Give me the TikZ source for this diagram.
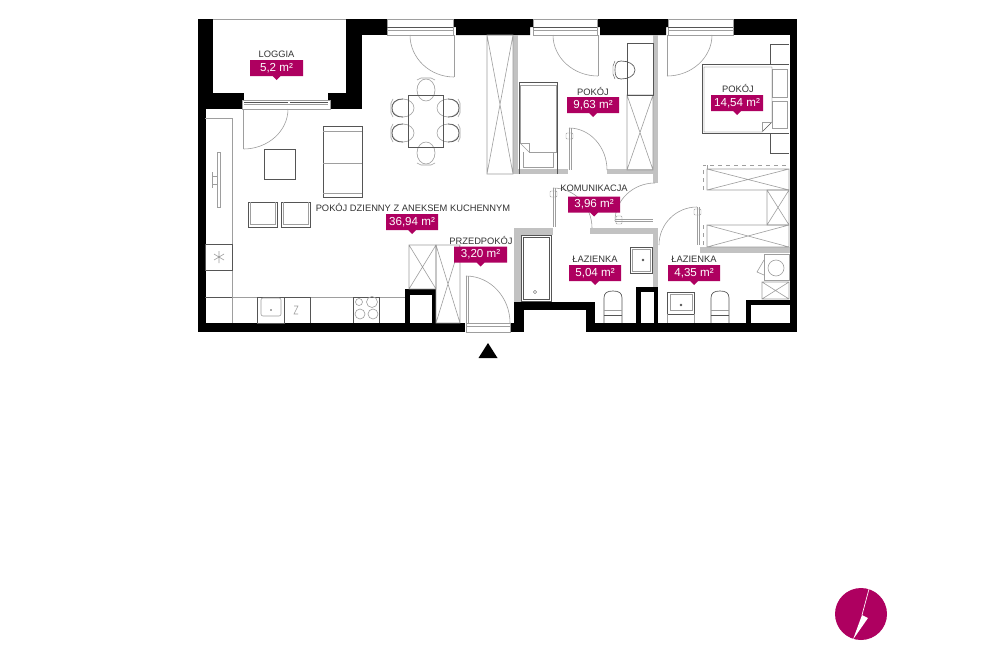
\documentclass[tikz,border=0pt]{standalone}
\usepackage{fontspec}
\setmainfont{Liberation Sans}
\usetikzlibrary{calc}
\definecolor{mag}{HTML}{AE0060}
\definecolor{txt}{HTML}{333333}
\definecolor{ln}{HTML}{555555}
\definecolor{lt}{HTML}{9E9E9E}
\definecolor{pw}{HTML}{C2C2C2}
\tikzset{
  wall/.style={fill=black,draw=none},
  part/.style={fill=pw,draw=none},
  furn/.style={draw=ln,line width=.5pt},
  thin/.style={draw=lt,line width=.45pt},
  doorl/.style={draw=lt,line width=.45pt},
  handle/.style={draw=lt,line width=.35pt,rounded corners=.8pt},
  title/.style={text=txt,font=\fontsize{7}{8}\selectfont,inner sep=0pt,anchor=center},
  val/.style={text=white,font=\fontsize{8.7}{9}\selectfont,inner sep=0pt,anchor=center,minimum width=39pt,minimum height=12pt}
}
\newcommand{\qarc}[3]{\draw[doorl] (#1) .. controls ($(#1)!0.55!(#2)$) and ($(#3)!0.55!(#2)$) .. (#3);}
\newcommand{\crossbox}[4]{\draw[thin] (#1,#2) rectangle (#3,#4) (#1,#2) -- (#3,#4) (#3,#2) -- (#1,#4);}
\newcommand{\areatag}[8]{%
  \node[title] (t#1) at (#3,#4) {#2};
  \fill[mag] (#6,#7) rectangle (#8,{#7+16}) ({(#6+#8)/2-4},{#7+16}) -- ({(#6+#8)/2+4},{#7+16}) -- ({(#6+#8)/2},{#7+20}) -- cycle;
  \node[val] (v#1) at ({(#6+#8)/2},{#7+8}) {#5};}
\newcommand{\winhoriz}[4]{%
  \fill[white] (#1,#2) rectangle (#3,#4);
  \draw[thin] (#1,#2) rectangle (#3,#4);
  \draw[furn] (#1,{#2+8}) -- (#3,{#2+8});
  \draw[thin] (#1,{#2+11}) -- (#3,{#2+11});}
\begin{document}
\begin{tikzpicture}[x=.75pt,y=-.75pt]
\useasboundingbox (0,0) rectangle (993,653);
\fill[white] (0,0) rectangle (993,653);
% black walls
\fill[wall] (197.5,19) rectangle (213,93);
\fill[wall] (197.5,93) rectangle (205.5,332);
\fill[wall] (205,93) rectangle (244,109);
\fill[wall] (197.5,323) rectangle (465,332);
\fill[wall] (346,19) rectangle (362,109);
\fill[wall] (346,19) rectangle (387,35);
\fill[wall] (328,93) rectangle (362,109);
\fill[wall] (453,19) rectangle (533,27) (456,27) rectangle (530,35);
\fill[wall] (597,19) rectangle (668,27) (600,27) rectangle (666,35);
\fill[wall] (733,19) rectangle (797,35);
\fill[wall] (789.5,19) rectangle (797,332);
\fill[wall] (510,323) rectangle (524,332);
\fill[wall] (514,302) rectangle (524,332);
\fill[wall] (514,302) rectangle (595,310);
\fill[wall] (586,302) rectangle (595,332);
\fill[wall] (586,323) rectangle (797,332);
\fill[wall] (405,289) rectangle (436,323);
\fill[white] (410,295) rectangle (432,323);
\fill[wall] (636,287) rectangle (658,323);
\fill[white] (641,292) rectangle (654,323);
\fill[wall] (746,300) rectangle (790,323);
\fill[white] (751,305) rectangle (789.5,323);
\draw[thin] (213,19) -- (346,19);
% windows
\winhoriz{387}{19}{453}{35}
\winhoriz{533}{19}{597}{35}
\winhoriz{668}{19}{733}{35}
\fill[white] (242,100) rectangle (330,109);
\draw[thin] (242,100) rectangle (330,109);
\draw[furn] (244,102) -- (288,102) (290,102) -- (328,102);
\draw[thin] (244,104) -- (328,104);
\fill[white] (466,323) rectangle (510,332);
\draw[thin] (466,323) rectangle (510,332) (466,326) -- (510,326);
% partitions
\fill[part] (513,35) rectangle (518,174);
\fill[part] (513,169) rectangle (568,174);
\fill[part] (653,35) rectangle (658,183);
\fill[part] (607,169) rectangle (655,174);
\fill[part] (514,228) rectangle (520.5,302);
\fill[part] (514,228) rectangle (553,235);
\fill[part] (590,228) rectangle (658,234);
\fill[part] (653,228) rectangle (658,287);
\fill[part] (700,247) rectangle (789.5,252.5);
% wardrobes
\crossbox{487}{35}{513}{174}
\crossbox{627}{95}{653}{170}
\draw[furn] (627,43) rectangle (653,95);
\crossbox{409}{245}{436}{289}
\crossbox{436}{245}{460}{323}
\crossbox{707}{169}{789}{190}
\crossbox{707}{225}{789}{247}
\crossbox{767}{190}{789}{225}
\draw[thin,dashed] (703,190) -- (703,165) -- (789,165) (703,225) -- (703,247) (707,165) -- (707,169);
% doors
\draw[doorl] (243.5,109) -- (243.5,149);
\qarc{243.5,149}{288,149}{288,109}
\draw[doorl] (454,35) -- (454,77);
\qarc{454,77}{410,77}{410,35}
\draw[doorl] (598,35) -- (598,76);
\qarc{598,76}{553,76}{553,35}
\draw[doorl] (667,35) -- (667,76);
\qarc{667,76}{712,76}{712,35}
\draw[doorl] (569,128) -- (569,170) (571,128) -- (571,170);
\qarc{569,128}{607,128}{607,170}
\draw[handle] (566,133) rectangle (573,139);
\draw[doorl] (553,188) -- (553,227) (555,188) -- (555,227);
\qarc{553,188}{592,188}{592,228}
\draw[handle] (550,191) rectangle (557,197);
\draw[doorl] (615,219) -- (653,219) (615,221) -- (653,221);
\qarc{615,221}{615,183}{655,183}
\draw[handle] (616,216) rectangle (622,224);
\draw[doorl] (697,207) -- (697,245) (699,207) -- (699,245);
\qarc{697,207}{659,207}{659,245}
\draw[handle] (694,209) rectangle (701,215);
\draw[doorl] (466,276) -- (466,323) (468,276) -- (468,323);
\qarc{466,276}{510,276}{510,323}
% bathrooms
\draw[furn] (521,235) rectangle (551,301);
\draw[furn] (523,237) rectangle (549,299);
\draw[furn,line width=.3pt] (535,292) circle (1.7);
\draw[furn] (630,247) rectangle (652,273);
\draw[thin] (632,249) rectangle (650,271);
\fill[ln] (643,260) circle (1.3);
\draw[furn] (604,323) -- (604,298) .. controls (604,293) and (607,291) .. (613,291) .. controls (619,291) and (622,293) .. (622,298) -- (622,323);
\draw[thin] (604,310) -- (622,310); \draw[furn] (604,315) -- (622,315);
\draw[furn] (711,323) -- (711,298) .. controls (711,293) and (714,291) .. (720,291) .. controls (726,291) and (729,293) .. (729,298) -- (729,323);
\draw[thin] (711,310) -- (729,310); \draw[furn] (711,315) -- (729,315);
\draw[furn] (667,292) rectangle (694,314);
\draw[thin] (670,294) rectangle (692,310);
\draw[thin] (667,314) -- (667,323) (694,314) -- (694,323);
\fill[ln] (681,305) circle (1.3);
% washer
\draw[thin] (764,254) rectangle (789,280);
\draw[thin] (776,268) circle (8);
\draw[thin] (764,260) -- (757,272) -- (764,275);
\crossbox{762}{282}{789}{299}
% bed 14.54
\draw[furn] (789,64) -- (702,64) -- (702,133) -- (789,133);
\draw[thin] (772,69) rectangle (787,97) (772,101) rectangle (787,128);
\fill[white] (704,67) rectangle (772,132);
\draw[furn,line width=.35pt] (704,67) -- (772,67) -- (772,122) -- (762,132) -- (704,132) -- cycle;
\draw[thin] (762,132) -- (762,122) -- (772,122);
\draw[furn] (770,64) -- (770,44) -- (789,44) (770,133) -- (770,153) -- (789,153);
% bed 9.63
\draw[furn] (519,174) -- (519,82) -- (557,82) -- (557,174);
\draw[thin] (520,85) -- (556,85) -- (556,152) -- (529,152) -- (529,143) -- (520,143) -- cycle;
\draw[thin] (520,143) -- (529,152);
\draw[thin] (523,152) -- (523,167) -- (553,167) -- (553,152);
% chair pokoj
\draw[furn] (635,70) .. controls (635,64) and (628,61) .. (621,61) .. controls (616,61) and (615,65) .. (615,70) .. controls (615,75) and (616,79) .. (621,79) .. controls (628,79) and (635,76) .. (635,70);
\draw[furn,line width=.3pt] (615,61) -- (613,66) -- (613,74) -- (615,79);
% table and chairs
\foreach \cx/\cy in {403/108,403/133,448/108,448/133}{\draw[thin] (\cx,\cy) ellipse (11 and 9);}
\foreach \cx/\cy in {426/90,426/153}{\draw[thin] (\cx,\cy) ellipse (9 and 11);}
\draw[furn] (403,99) .. controls (394,99) and (392,104) .. (392,108) .. controls (392,113) and (394,117) .. (403,117);
\draw[furn] (403,124) .. controls (394,124) and (392,129) .. (392,133) .. controls (392,138) and (394,142) .. (403,142);
\draw[furn] (448,99) .. controls (457,99) and (459,104) .. (459,108) .. controls (459,113) and (457,117) .. (448,117);
\draw[furn] (448,124) .. controls (457,124) and (459,129) .. (459,133) .. controls (459,138) and (457,142) .. (448,142);
\draw[thin] (393,99) -- (391,103) -- (391,113) -- (393,117) (393,124) -- (391,128) -- (391,138) -- (393,142);
\draw[thin] (458,99) -- (460,103) -- (460,113) -- (458,117) (458,124) -- (460,128) -- (460,138) -- (458,142);
\draw[thin] (417,80) -- (421,78) -- (431,78) -- (435,80) (417,163) -- (421,165) -- (431,165) -- (435,163);
\draw[furn] (408,95) rectangle (443,147);
% sofa etc.
\draw[furn] (323,126) rectangle (362,197);
\draw[thin] (323,131.5) -- (362,131.5) (323,163) -- (362,163) (323,193) -- (362,193);
\draw[furn] (264,149) rectangle (295,179);
\draw[furn] (248,202) rectangle (277,227);
\draw[thin] (250,202) -- (250,224) -- (275,224) -- (275,202);
\draw[furn] (281,202) rectangle (310,227);
\draw[thin] (283,202) -- (283,224) -- (308,224) -- (308,202);
% kitchen
\draw[thin] (205,118) -- (232,118) -- (232,297);
\draw[thin] (232,297) -- (405,297) (232,297) -- (232,323);
\draw[furn] (205,297) -- (232,297);
\draw[furn] (205,244) rectangle (232,270);
\draw[thin] (219,251) -- (219,263) (214,254) -- (224,260) (224,254) -- (214,260);
\draw[thin] (217,152) rectangle (220.5,207);
\draw[thin] (212,172) -- (212,188) (212,176) -- (217,176) (212,184) -- (217,184);
\draw[furn] (257,297) rectangle (284,323);
\draw[thin,rounded corners=1.5pt] (261,298) rectangle (281,316);
\fill[ln] (271,310) circle (.8);
\draw[furn] (284,297) -- (310,297) -- (310,323);
\draw[thin] (294,306) -- (298,306) -- (294,314) -- (298,314);
\draw[furn] (353,323) -- (353,297) -- (379,297) -- (379,323);
\draw[thin] (359,302) circle (3.5) (372,302) circle (5.5) (360,314) circle (5) (373,314) circle (5);
% labels
\areatag{a}{LOGGIA}{276.5}{54}{5,2 m²}{250}{60}{303}
\areatag{b}{POKÓJ DZIENNY Z ANEKSEM KUCHENNYM}{413}{207}{36,94 m²}{386}{214}{438}
\areatag{c}{PRZEDPOKÓJ}{481}{240}{3,20 m²}{454}{246.5}{507}
\areatag{d}{POKÓJ}{593}{91}{9,63 m²}{567}{97}{619}
\areatag{e}{POKÓJ}{738}{88}{14,54 m²}{711}{95}{763}
\areatag{f}{KOMUNIKACJA}{594}{188}{3,96 m²}{568}{196.5}{620}
\areatag{g}{ŁAZIENKA}{595}{259}{5,04 m²}{569}{265}{621}
\areatag{h}{ŁAZIENKA}{694}{259}{4,35 m²}{668}{265}{720}
% entrance arrow
\fill[black] (488,343) -- (497.5,358) -- (478.5,358) -- cycle;
% logo
\fill[mag] (861,614) circle (26);
\draw[white,line width=.5pt] (869,589) -- (862,615);
\fill[white] (862,615) -- (868,618) -- (853,639.5) -- cycle;
\end{tikzpicture}
\end{document}
